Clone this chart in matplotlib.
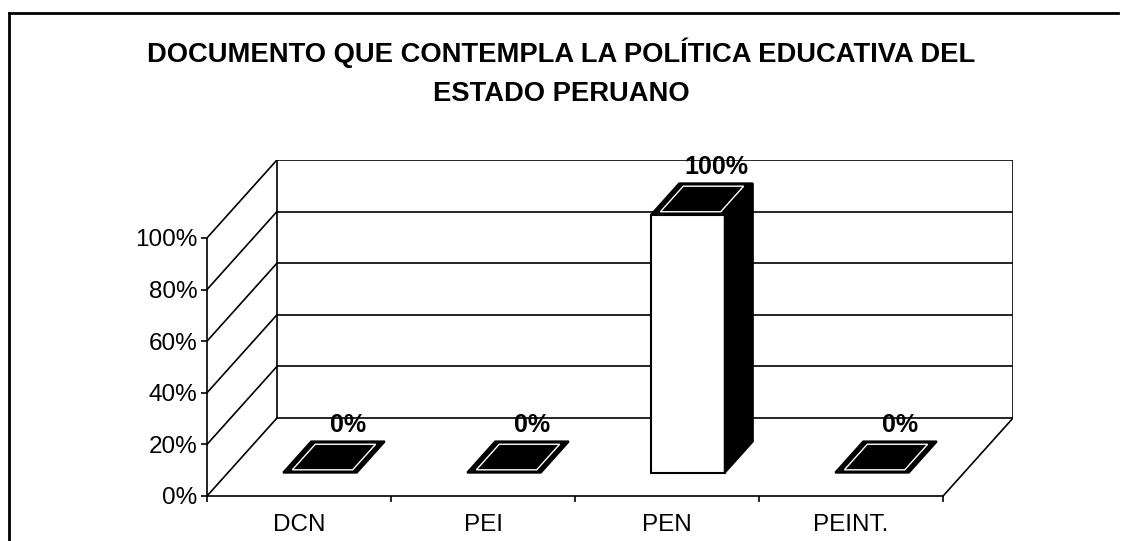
import numpy as np
import matplotlib.pyplot as plt
from matplotlib.patches import Polygon
from matplotlib.lines import Line2D

# ---------------- datos ----------------
categorias = ["DCN", "PEI", "PEN", "PEINT."]
valores = [0, 0, 100, 0]          # porcentaje
marcas_y = [0, 20, 40, 60, 80, 100]
titulo = ["DOCUMENTO QUE CONTEMPLA LA POLÍTICA EDUCATIVA DEL", "ESTADO PERUANO"]

# ---------------- pseudo 3D ----------------
DX = 0.38     # profundidad del piso en unidades de categoria
DY = 30.2     # profundidad del piso en unidades de %
ANCHO = 0.40  # ancho de barra
FRENTE = 0.30 # fraccion de profundidad donde empieza la barra
FONDO = 0.40  # fraccion de profundidad que ocupa la barra

plt.rcParams['font.family'] = ['Liberation Sans', 'DejaVu Sans']

fig = plt.figure(figsize=(11.22, 5.41), dpi=100)
W, H = 1122, 541
ax = fig.add_axes([207 / W, 45 / H, 806 / W, 336 / H])
n = len(categorias)
ax.set_xlim(0, n + DX)
ax.set_ylim(0, 100 + DY)

for s in ["top", "right"]:
    ax.spines[s].set_visible(False)
ax.spines["left"].set_bounds(0, 100)
ax.spines["bottom"].set_bounds(0, n)
for s in ["left", "bottom"]:
    ax.spines[s].set_linewidth(1.2)

ax.set_yticks(marcas_y)
ax.set_yticklabels([f"{v}%" for v in marcas_y], fontsize=17.5)
ax.tick_params(axis="y", direction="out", length=4, width=1.2, pad=3)
ax.set_xticks(np.arange(n + 1))
ax.set_xticklabels([])
ax.tick_params(axis="x", which="major", direction="out", length=4, width=1.2)
ax.set_xticks(np.arange(n) + 0.5, minor=True)
ax.set_xticklabels(categorias, minor=True, fontsize=17.5)
ax.tick_params(axis="x", which="minor", length=0, pad=13)

# paredes y piso
kw = dict(color="black", lw=1.2, zorder=1)
for v in marcas_y:
    ax.plot([0, DX], [v, v + DY], **kw)                 # pared izquierda
    ax.plot([DX, n + DX], [v + DY, v + DY], **kw)       # pared del fondo
ax.plot([DX, DX], [DY, 100 + DY], **kw)
ax.plot([n + DX, n + DX], [DY, 100 + DY], **kw)
ax.plot([n, n + DX], [0, DY], **kw)


def inset(pts, k=0.82):
    c = pts.mean(axis=0)
    return c + (pts - c) * k


for i, (cat, v) in enumerate(zip(categorias, valores)):
    x0 = i + 0.5 - ANCHO / 2 + FRENTE * DX
    y0 = FRENTE * DY
    bx, by = FONDO * DX, FONDO * DY
    frente = np.array([[x0, y0], [x0 + ANCHO, y0], [x0 + ANCHO, y0 + v], [x0, y0 + v]])
    lado = np.array([[x0 + ANCHO, y0], [x0 + ANCHO + bx, y0 + by],
                     [x0 + ANCHO + bx, y0 + by + v], [x0 + ANCHO, y0 + v]])
    tapa = np.array([[x0, y0 + v], [x0 + ANCHO, y0 + v],
                     [x0 + ANCHO + bx, y0 + v + by], [x0 + bx, y0 + v + by]])
    if v > 0:
        ax.add_patch(Polygon(frente, closed=True, fc="white", ec="black", lw=1.5, zorder=3))
        ax.add_patch(Polygon(lado, closed=True, fc="black", ec="black", lw=1.5, zorder=3))
    ax.add_patch(Polygon(tapa, closed=True, fc="black", ec="black", lw=1.5, zorder=4))
    ax.add_patch(Polygon(inset(tapa), closed=True, fill=False, ec="white", lw=1.0, zorder=5))
    ax.annotate(f"{v}%", (i + 0.5 + (FRENTE + FONDO) * DX, v + (FRENTE + FONDO) * DY),
                xytext=(0, 12), textcoords="offset points", ha="center", va="center",
                fontsize=18, fontweight="bold", zorder=6, annotation_clip=False)

# titulo
fig.text(0.5, 1 - 62 / H, titulo[0], ha="center", va="baseline",
         fontsize=19.7, fontweight="bold")
fig.text(0.5, 1 - 101 / H, titulo[1], ha="center", va="baseline",
         fontsize=19.7, fontweight="bold")

# marco exterior
fig.add_artist(Line2D([9 / W, 9 / W], [0, 1 - 13 / H], color="black", lw=2))
fig.add_artist(Line2D([9 / W, 1118 / W], [1 - 13 / H, 1 - 13 / H], color="black", lw=2))

fig.savefig("out.png", dpi=100)
